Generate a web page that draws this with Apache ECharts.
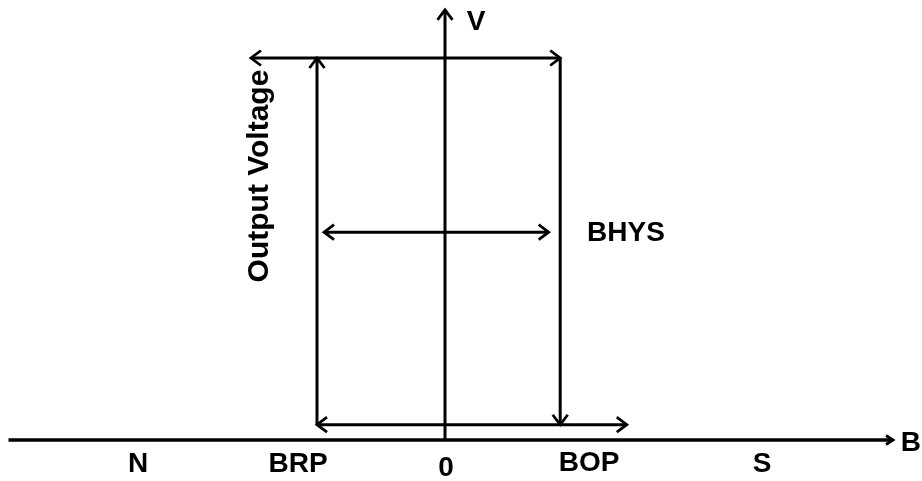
<!DOCTYPE html>
<html>
<head>
<meta charset="utf-8">
<script src="https://cdn.jsdelivr.net/npm/echarts@6/dist/echarts.min.js"></script>
<style>html,body{margin:0;padding:0;background:#fff;}#c{width:922px;height:481px;}</style>
</head>
<body>
<div id="c"></div>
<script>
// Switching points on the B axis (BRP = -1 unit) and output levels (V)
const BRP = -1.0;
const BOP = 0.9;
const V_HIGH = 5.0;
const V_LOW = 0.2;
const V_MID = 2.72;

// Arrow segments: [x1, y1, x2, y2, arrowAtStart, arrowAtEnd, headSize]
const axisSegments = [
  [-3.41, 0, 3.50, 0, 0, 1, 0],     // B axis
  [0, 0, 0, 5.63, 0, 1, 1]          // V axis
];
const loopSegments = [
  [-1.516, V_HIGH, BOP, V_HIGH, 1, 1, 1],   // top (output high)
  [BRP, V_LOW, BRP, V_HIGH, 0, 1, 1],       // rise at BRP
  [BOP, V_HIGH, BOP, V_LOW, 0, 1, 1],       // fall at BOP
  [BRP, V_LOW, 1.42, V_LOW, 1, 1, 1],       // bottom (output low)
  [-0.945, V_MID, 0.81, V_MID, 1, 1, 1]     // BHYS span
];

// Tick labels along B axis
const bTickLabels = ['N', 'BRP', '0', 'BOP', 'S'];
const bTickPos = [-2.398, -1.148, 0.008, 1.125, 2.477];
const bTickY = [-0.314, -0.314, -0.366, -0.30, -0.314];

// Other annotations: [x, y, text, rotateDeg, fontSize]
const annotations = [
  [0.242, 5.47, 'V', 0, 28],
  [3.64, -0.04, 'B', 0, 28],
  [1.414, 2.70, 'BHYS', 0, 28],
  [-1.445, 3.455, 'Output Voltage', 90, 30]
];

const textData = bTickLabels.map((t, i) => [bTickPos[i], bTickY[i], t, 0, 28]).concat(annotations);

const heads = [[7, 4.5], [10, 7.5]]; // [back, halfWidth] in px

function renderArrow(params, api) {
  const p1 = api.coord([api.value(0), api.value(1)]);
  const p2 = api.coord([api.value(2), api.value(3)]);
  const aS = api.value(4), aE = api.value(5);
  const hs = heads[api.value(6)];
  const lw = api.value(6) === 0 ? 3.4 : 3;
  const children = [{
    type: 'polyline',
    shape: { points: [p1, p2] },
    style: { stroke: '#000', lineWidth: lw, fill: null }
  }];
  function head(tip, from) {
    const dx = tip[0] - from[0], dy = tip[1] - from[1];
    const L = Math.sqrt(dx * dx + dy * dy);
    const ux = dx / L, uy = dy / L;
    const nx = -uy, ny = ux;
    const bx = tip[0] - ux * hs[0], by = tip[1] - uy * hs[0];
    children.push({
      type: 'polyline',
      shape: { points: [[bx + nx * hs[1], by + ny * hs[1]], tip, [bx - nx * hs[1], by - ny * hs[1]]] },
      style: { stroke: '#000', lineWidth: 2.8, fill: null, lineJoin: 'miter' }
    });
  }
  if (aE) head(p2, p1);
  if (aS) head(p1, p2);
  return { type: 'group', children: children };
}

function renderText(params, api) {
  const p = api.coord([api.value(0), api.value(1)]);
  const d = textData[params.dataIndex];
  return {
    type: 'text',
    x: p[0], y: p[1],
    rotation: d[3] * Math.PI / 180,
    style: {
      text: d[2],
      x: 0, y: 0,
      fill: '#000',
      font: 'bold ' + d[4] + 'px "Liberation Sans", Arial, sans-serif',
      align: 'center',
      verticalAlign: 'middle'
    }
  };
}

const chart = echarts.init(document.getElementById('c'), null, { renderer: 'canvas' });
chart.setOption({
  animation: false,
  backgroundColor: '#ffffff',
  grid: { left: 0, right: 0, top: 0, bottom: 0 },
  xAxis: { type: 'value', min: -3.4766, max: 3.7266, show: false },
  yAxis: { type: 'value', min: -0.5366, max: 5.7592, show: false },
  series: [
    { type: 'custom', renderItem: renderArrow, data: axisSegments, silent: true },
    { type: 'custom', renderItem: renderArrow, data: loopSegments, silent: true },
    { type: 'custom', renderItem: renderText, data: textData.map(d => [d[0], d[1]]), silent: true }
  ]
});
</script>
</body>
</html>
